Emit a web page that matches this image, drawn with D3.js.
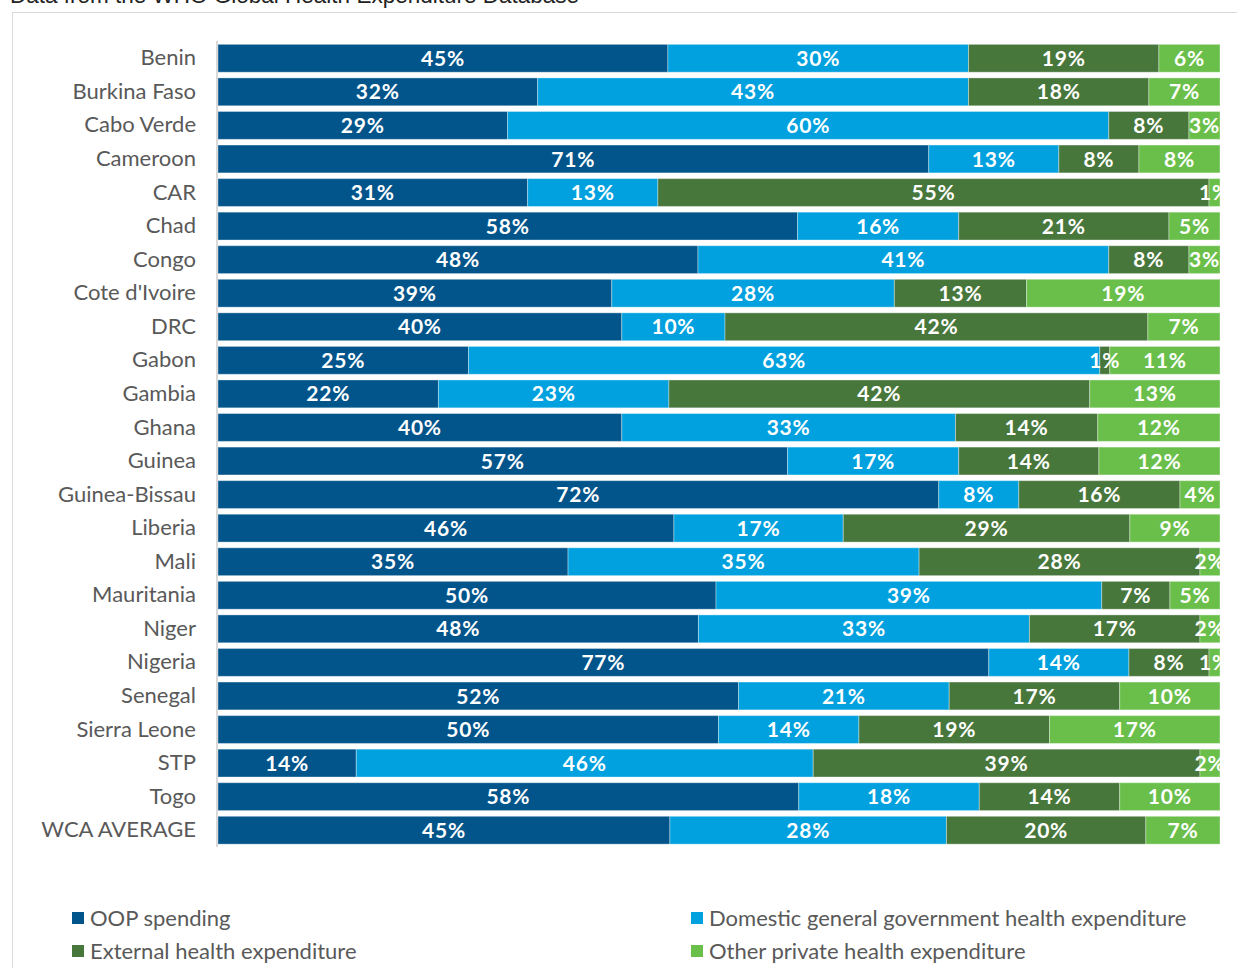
<!DOCTYPE html>
<html lang="en">
<head>
    <meta charset="UTF-8">
    <title>Health expenditure sources, WCA</title>
    <script src="https://d3js.org/d3.v7.min.js"></script>
    <style>
        body {
            margin: 0;
            background-color: white;
        }
        svg {
            display: block;
        }
    </style>
</head>
<body>

<svg width="1237" height="968"></svg>
<script>
    const countries = ["Benin", "Burkina Faso", "Cabo Verde", "Cameroon", "CAR", "Chad", "Congo",
        "Cote d'Ivoire", "DRC", "Gabon", "Gambia", "Ghana", "Guinea", "Guinea-Bissau", "Liberia",
        "Mali", "Mauritania", "Niger", "Nigeria", "Senegal", "Sierra Leone", "STP", "Togo", "WCA AVERAGE"];

    const seriesNames = ["OOP spending", "Domestic general government health expenditure",
        "External health expenditure", "Other private health expenditure"];

    // shares
    const oop      = [0.449, 0.319, 0.289, 0.710, 0.309, 0.579, 0.479, 0.393, 0.403, 0.250, 0.220, 0.403,
                      0.569, 0.720, 0.455, 0.349, 0.497, 0.479, 0.770, 0.519, 0.499, 0.138, 0.579, 0.451];
    const domestic = [0.300, 0.430, 0.600, 0.130, 0.130, 0.161, 0.410, 0.282, 0.103, 0.630, 0.230, 0.333,
                      0.171, 0.080, 0.169, 0.350, 0.385, 0.330, 0.140, 0.210, 0.140, 0.456, 0.180, 0.276];
    const external = [0.190, 0.180, 0.080, 0.080, 0.550, 0.210, 0.080, 0.132, 0.422, 0.010, 0.420, 0.142,
                      0.140, 0.161, 0.286, 0.280, 0.068, 0.170, 0.080, 0.170, 0.190, 0.386, 0.140, 0.199];
    const otherPriv = [0.061, 0.071, 0.031, 0.081, 0.011, 0.051, 0.031, 0.193, 0.072, 0.110, 0.130, 0.122,
                       0.121, 0.040, 0.090, 0.020, 0.050, 0.020, 0.011, 0.100, 0.170, 0.020, 0.100, 0.074];

    const colors = ["#02558b", "#00a1de", "#48773c", "#6abf4b"];

    const table = countries.map((c, i) => ({
        country: c,
        s0: oop[i], s1: domestic[i], s2: external[i], s3: otherPriv[i]
    }));
    const keys = ["s0", "s1", "s2", "s3"];

    const stack = d3.stack().keys(keys).offset(d3.stackOffsetExpand);
    const series = stack(table);

    const svg = d3.select("svg");

    const margin = {left: 218, right: 17};
    const x = d3.scaleLinear().domain([0, 1]).range([margin.left, 1237 - margin.right]);
    const y = d3.scaleBand().domain(countries).range([41.5, 847])
        .paddingInner(0.17).paddingOuter(0.085);

    // header text, mostly off the top
    svg.append("text")
        .attr("x", 10).attr("y", 3)
        .style("font", "22.5px 'Liberation Sans', Arial, sans-serif")
        .attr("fill", "#222")
        .text("Data from the WHO Global Health Expenditure Database");

    // chart frame
    svg.append("rect")
        .attr("x", 12.5).attr("y", 12.5)
        .attr("width", 1240).attr("height", 1000)
        .attr("fill", "none")
        .attr("stroke", "#d9d9d9");

    svg.append("clipPath").attr("id", "plot")
        .append("rect")
        .attr("x", x(0)).attr("y", 0)
        .attr("width", x(1) - x(0)).attr("height", 968);

    const bars = svg.append("g");

    const layer = bars.selectAll("g")
        .data(series)
        .join("g")
        .attr("fill", (d, i) => colors[i]);

    layer.selectAll("rect")
        .data(d => d)
        .join("rect")
        .attr("x", d => x(d[0]))
        .attr("y", d => y(d.data.country))
        .attr("width", d => x(d[1]) - x(d[0]))
        .attr("height", y.bandwidth())
        .attr("stroke", "#fff")
        .attr("stroke-opacity", 0.35)
        .attr("stroke-width", 1);

    const fmt = d3.format(".0%");

    bars.append("g")
        .attr("clip-path", "url(#plot)")
        .selectAll("g")
        .data(series)
        .join("g")
        .selectAll("text")
        .data(d => d)
        .join("text")
        .attr("x", d => (x(d[0]) + x(d[1])) / 2)
        .attr("y", d => y(d.data.country) + y.bandwidth() / 2)
        .attr("dy", "0.36em")
        .attr("text-anchor", "middle")
        .attr("fill", "white")
        .style("font", "bold 21px Lato, sans-serif")
        .style("letter-spacing", "0.8px")
        .text(d => fmt(d[1] - d[0]));

    // category axis
    const yAxis = svg.append("g")
        .attr("transform", `translate(${margin.left - 1},0)`)
        .call(d3.axisLeft(y).tickSize(0).tickPadding(21));
    yAxis.select(".domain")
        .attr("d", `M0,41V847`)
        .attr("stroke", "#d9d9d9")
        .attr("stroke-width", 2);
    yAxis.selectAll("text")
        .attr("fill", "#595959")
        .style("font", "22px Lato, sans-serif");

    // legend
    const legendPos = [[72, 918], [691, 918], [72, 951], [691, 951]];
    const legend = svg.append("g")
        .selectAll("g")
        .data(seriesNames)
        .join("g")
        .attr("transform", (d, i) => `translate(${legendPos[i][0]},${legendPos[i][1]})`);

    legend.append("rect")
        .attr("x", 0).attr("y", -6)
        .attr("width", 12).attr("height", 12)
        .attr("fill", (d, i) => colors[i]);

    legend.append("text")
        .attr("x", 18).attr("dy", "0.35em")
        .attr("fill", "#595959")
        .style("font", "22px Lato, sans-serif")
        .text(d => d);
</script>
</body>
</html>
